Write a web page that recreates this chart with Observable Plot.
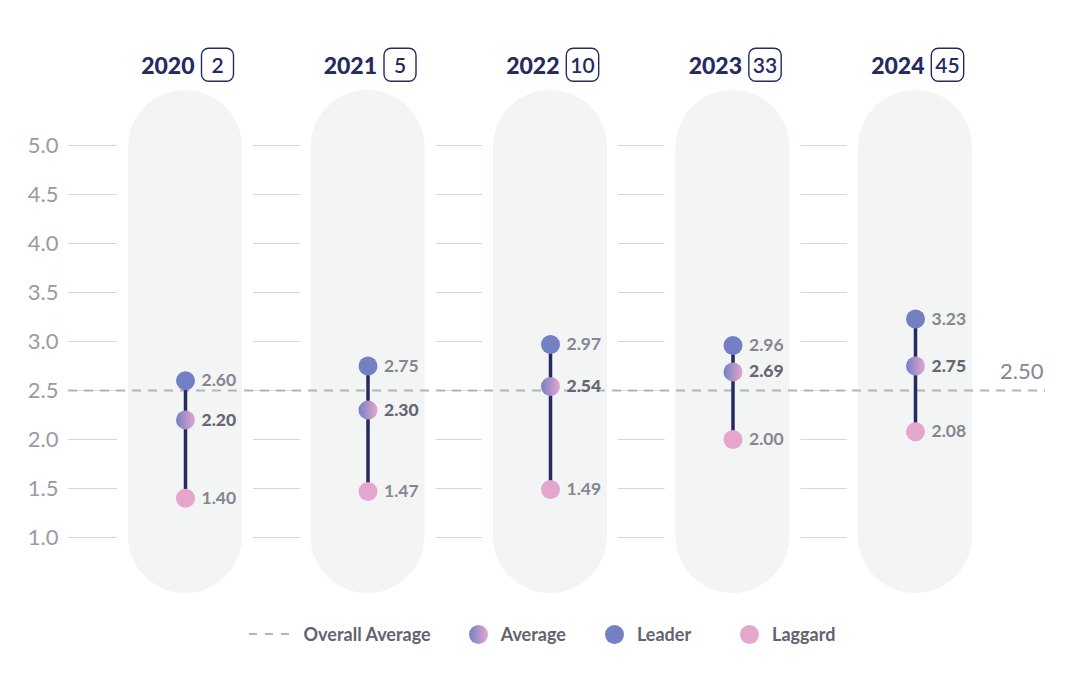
<!DOCTYPE html>
<html>
<head>
<meta charset="utf-8">
<script src="https://cdn.jsdelivr.net/npm/d3@7"></script>
<script src="https://cdn.jsdelivr.net/npm/@observablehq/plot@0.6"></script>
<style>
  html, body { margin: 0; padding: 0; background: #ffffff; }
  body { width: 1066px; height: 688px; font-family: Lato, "Open Sans", sans-serif; }
  #legend { height: 48px; display: flex; align-items: center; justify-content: center;
            font-family: Lato, sans-serif; font-weight: 700; font-size: 18px; color: #63636f; margin-left: 18px; }
  .item { display: flex; align-items: center; gap: 13px; }
  .sw { width: 19px; height: 19px; border-radius: 50%; }
</style>
</head>
<body>
<div id="chart"></div>
<div id="legend"></div>
<script>
// ---- data ----
const years = ["2020", "2021", "2022", "2023", "2024"];
const counts = [2, 5, 10, 33, 45];
const leader = [2.60, 2.75, 2.97, 2.96, 3.23];
const average = [2.20, 2.30, 2.54, 2.69, 2.75];
const laggard = [1.40, 1.47, 1.49, 2.00, 2.08];
const overallAverage = 2.50;
const yTicks = [1.0, 1.5, 2.0, 2.5, 3.0, 3.5, 4.0, 4.5, 5.0];
const legendLabels = ["Overall Average", "Average", "Leader", "Laggard"];

// ---- styles ----
const NAVY = "#262a5e";
const LEADER = "#7380c4";
const LAGGARD = "#e4a6cd";
const GRAY = "#868692";

const rows = years.map((y, i) => ({year: y, i, count: counts[i], leader: leader[i], average: average[i], laggard: laggard[i]}));

const step = 182.5, firstCenter = 185, mL = 68, mR = 21, W = 1066, H = 610;
const xDomain = [(mL - firstCenter) / step, (W - mR - firstCenter) / step];
const hw = 57 / step, gp = 11 / step;
const yTop = 5 + 55 / 98, yBot = 1 - 56 / 98;

const gaps = years.map((_, k) => [k === 0 ? xDomain[0] : k - 1 + hw + gp, k - hw - gp]);
const grid = yTicks.flatMap(t => gaps.map(g => ({y: t, x1: g[0], x2: g[1]})));

const countMark = Plot.text(rows, {x: "i", frameAnchor: "top", lineAnchor: "middle", dy: -24, dx: 32, text: d => String(d.count), textAnchor: "middle", fontSize: 21, fontWeight: 600, fill: NAVY});

const chart = Plot.plot({
  width: W, height: H,
  marginLeft: mL, marginRight: mR, marginTop: 90, marginBottom: 17,
  style: {fontFamily: "Lato, sans-serif", background: "#ffffff"},
  x: {type: "linear", domain: xDomain, axis: null},
  y: {domain: [yBot, yTop], axis: null},
  marks: [
    Plot.ruleY(grid, {y: "y", x1: "x1", x2: "x2", stroke: "#d6d6db", strokeWidth: 1}),
    Plot.rect(rows, {x1: d => d.i - hw, x2: d => d.i + hw, y1: yBot, y2: yTop, rx: 57, fill: "#f3f4f4"}),
    Plot.axisY(yTicks, {tickSize: 0, tickPadding: 10, tickFormat: d => d.toFixed(1), fontSize: 22, fill: "#9a9aa4", textAnchor: "end"}),
    Plot.ruleY([overallAverage], {stroke: "#b3b3b8", strokeWidth: 2, strokeDasharray: "9,7"}),
    Plot.text([overallAverage], {y: d => d, frameAnchor: "right", text: d => d.toFixed(2), dy: -19, dx: -2, textAnchor: "end", fontSize: 22, fill: GRAY}),
    Plot.ruleX(rows, {x: "i", y1: "laggard", y2: "leader", stroke: NAVY, strokeWidth: 3.5}),
    Plot.dot(rows, {x: "i", y: "leader", r: 9.5, fill: LEADER}),
    Plot.dot(rows, {x: "i", y: "laggard", r: 9.5, fill: LAGGARD}),
    Plot.dot(rows, {x: "i", y: "average", r: 9.5, fill: "url(#avgGrad)"}),
    Plot.text(rows, {x: "i", y: "leader", text: d => d.leader.toFixed(2), dx: 16, textAnchor: "start", fontSize: 17.5, fontWeight: 700, fill: GRAY}),
    Plot.text(rows, {x: "i", y: "laggard", text: d => d.laggard.toFixed(2), dx: 16, textAnchor: "start", fontSize: 17.5, fontWeight: 700, fill: GRAY}),
    Plot.text(rows, {x: "i", y: "average", text: d => d.average.toFixed(2), dx: 16, textAnchor: "start", fontSize: 17.5, fontWeight: 900, fill: "#666674"}),
    Plot.text(rows, {x: "i", frameAnchor: "top", lineAnchor: "middle", dy: -24, dx: 9, text: "year", textAnchor: "end", fontSize: 23, fontWeight: 900, fill: NAVY}),
    countMark
  ]
});

document.getElementById("chart").appendChild(chart);

// gradient for the Average dots
const svg = d3.select(chart);
const defs = svg.insert("defs", ":first-child");
const grad = defs.append("linearGradient").attr("id", "avgGrad").attr("x1", "0%").attr("x2", "100%").attr("y1", "0%").attr("y2", "0%");
grad.append("stop").attr("offset", "0%").attr("stop-color", LEADER);
grad.append("stop").attr("offset", "100%").attr("stop-color", LAGGARD);

// rounded boxes around the counts (the last text mark)
const sb = chart.getBoundingClientRect();
const textGroups = svg.selectAll('g[aria-label="text"]').nodes();
const countGroup = textGroups[textGroups.length - 1];
d3.select(countGroup).selectAll("text").each(function () {
  const b = this.getBoundingClientRect();
  const cx = (b.left + b.right) / 2 - sb.left, cy = (b.top + b.bottom) / 2 - sb.top;
  const w = Math.max(32, b.width + 8), h = 33;
  svg.append("rect").attr("x", cx - w / 2).attr("y", cy - h / 2).attr("width", w).attr("height", h)
    .attr("rx", 7).attr("fill", "none").attr("stroke", NAVY).attr("stroke-width", 1.4);
});

// legend
const legend = document.getElementById("legend");
const swatches = [
  `<svg width="42" height="4"><line x1="0" x2="42" y1="2" y2="2" stroke="#b3b3b8" stroke-width="2" stroke-dasharray="8,8"/></svg>`,
  `<div class="sw" style="background: linear-gradient(to right, ${LEADER}, ${LAGGARD})"></div>`,
  `<div class="sw" style="background: ${LEADER}"></div>`,
  `<div class="sw" style="background: ${LAGGARD}"></div>`
];
const legendGaps = [0, 38, 39, 49];
legendLabels.forEach((l, k) => {
  const it = document.createElement("div");
  it.className = "item";
  it.style.marginLeft = legendGaps[k] + "px";
  it.innerHTML = swatches[k] + `<span>${l}</span>`;
  legend.appendChild(it);
});
</script>
</body>
</html>
